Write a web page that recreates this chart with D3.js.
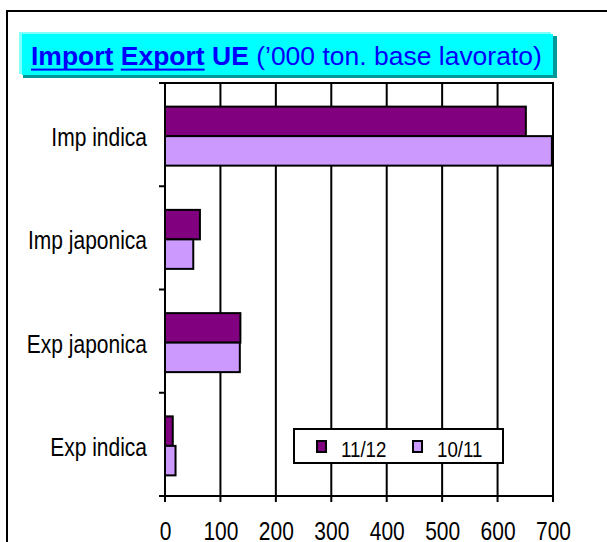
<!DOCTYPE html>
<html>
<head>
    <title>Import Export UE</title>
    <script src='https://cdn.jsdelivr.net/npm/d3@7/dist/d3.min.js' charset='utf-8'></script>
    <style type="text/css">
        body { margin: 0; background: #fff; }
        svg text { font-family: "Liberation Sans", Arial, sans-serif; }
    </style>
</head>
<body>
    <svg class='chart'></svg>

    <script type='text/javascript'>
    var categories = ["Imp indica", "Imp japonica", "Exp japonica", "Exp indica"];
    var seriesNames = ["11/12", "10/11"];
    var values1112 = [651, 63, 136, 14];
    var values1011 = [698, 51, 135, 19];
    var xTicks = [0, 100, 200, 300, 400, 500, 600, 700];

    var width = 607;
    var height = 542;
    var plotLeft = 165, plotTop = 83;
    var plotW = 388, plotH = 413;
    var squish = 0.84; // the picture's labels are narrow

    var rows = categories.map(function (c, i) {
        return { cat: c, vals: [values1112[i], values1011[i]] };
    });

    var x = d3.scaleLinear().domain([0, 700]).range([0, plotW]);
    var y = d3.scaleBand().domain(categories).range([0, plotH]);
    var ySub = d3.scaleBand().domain(seriesNames).range([0, y.bandwidth()]).paddingOuter(0.75);
    var color = d3.scaleOrdinal().domain(seriesNames).range(["#800080", "#cc99ff"]);

    var chart = d3.select('.chart')
        .attr('width', width)
        .attr('height', height);

    // outer frame (runs off the right and bottom of the picture)
    chart.append('rect')
        .attr('x', 7).attr('y', 11)
        .attr('width', 640).attr('height', 600)
        .attr('fill', 'none').attr('stroke', '#000').attr('stroke-width', 2);

    // title box
    chart.append('rect').attr('x', 23).attr('y', 36).attr('width', 534).attr('height', 42).attr('fill', '#009999');
    chart.append('rect').attr('x', 19).attr('y', 32).attr('width', 532).attr('height', 42).attr('fill', '#80ffff');
    chart.append('rect').attr('x', 22).attr('y', 34).attr('width', 531).attr('height', 41).attr('fill', '#00ffff');

    var titleG = chart.append('g');
    var title = titleG.append('text')
        .attr('font-size', 25)
        .attr('fill', '#0000ff');
    var parts = [
        { t: "Import", b: true, u: true },
        { t: " ", b: true, u: false },
        { t: "Export", b: true, u: true },
        { t: " UE", b: true, u: false },
        { t: " (\u2019000 ton. base lavorato)", b: false, u: false }
    ];
    title.selectAll('tspan')
        .data(parts)
        .enter()
        .append('tspan')
        .attr('font-weight', function (d) { return d.b ? 'bold' : 'normal'; })
        .style('white-space', 'pre')
        .text(function (d) { return d.t; });

    var titleNode = title.node();
    var natural = titleNode.getComputedTextLength();
    titleG.attr('transform', 'translate(31,65) scale(' + (511 / natural) + ',1)');
    var pos = 0;
    parts.forEach(function (p) {
        var len = titleNode.getSubStringLength(pos, p.t.length);
        if (p.u) {
            titleG.append('rect')
                .attr('x', titleNode.getSubStringLength(0, pos))
                .attr('y', 3.6).attr('width', len).attr('height', 2)
                .attr('fill', '#0000ff');
        }
        pos += p.t.length;
    });

    var group = chart.append('g')
        .attr('transform', 'translate(' + plotLeft + ',' + plotTop + ')');

    // vertical gridlines with small ticks below the axis
    group.selectAll('.grid')
        .data(xTicks)
        .enter()
        .append('line')
        .attr('class', 'grid')
        .attr('x1', function (d) { return x(d); })
        .attr('x2', function (d) { return x(d); })
        .attr('y1', 0).attr('y2', plotH + 6)
        .attr('stroke', '#000').attr('stroke-width', 2);

    // tick marks on the category axis at band edges
    var edges = categories.map(function (c) { return y(c); }).concat([plotH]);
    group.selectAll('.ytick')
        .data(edges)
        .enter()
        .append('line')
        .attr('class', 'ytick')
        .attr('x1', -6).attr('x2', 0)
        .attr('y1', function (d) { return d; })
        .attr('y2', function (d) { return d; })
        .attr('stroke', '#000').attr('stroke-width', 2);

    group.append('line').attr('x1', -1).attr('x2', plotW + 1).attr('y1', 0).attr('y2', 0)
        .attr('stroke', '#000').attr('stroke-width', 2);
    group.append('line').attr('x1', -1).attr('x2', plotW + 1).attr('y1', plotH).attr('y2', plotH)
        .attr('stroke', '#000').attr('stroke-width', 2);
    group.append('line').attr('x1', 0).attr('x2', 0).attr('y1', 0).attr('y2', plotH)
        .attr('stroke', '#000').attr('stroke-width', 2);

    // bars
    var rowG = group.selectAll('.row')
        .data(rows)
        .enter()
        .append('g')
        .attr('class', 'row')
        .attr('transform', function (d) { return 'translate(0,' + (y(d.cat) + 1.5) + ')'; });

    rowG.selectAll('rect')
        .data(function (d) {
            return d.vals.map(function (v, i) { return { name: seriesNames[i], value: v }; });
        })
        .enter()
        .append('rect')
        .attr('x', 0)
        .attr('y', function (d) { return ySub(d.name); })
        .attr('width', function (d) { return x(d.value); })
        .attr('height', ySub.bandwidth())
        .attr('fill', function (d) { return color(d.name); })
        .attr('stroke', '#000')
        .attr('stroke-width', 2);

    // axes (labels only)
    var xAxis = group.append('g')
        .attr('transform', 'translate(0,' + plotH + ')')
        .call(d3.axisBottom(x).tickValues(xTicks).tickSize(0));
    xAxis.select('.domain').remove();
    xAxis.selectAll('text')
        .attr('font-size', 25)
        .attr('font-family', '"Liberation Sans", Arial, sans-serif')
        .attr('fill', '#000')
        .attr('y', 44).attr('dy', 0)
        .attr('transform', 'scale(' + squish + ',1)');

    var yAxis = group.append('g')
        .call(d3.axisLeft(y).tickSize(0));
    yAxis.select('.domain').remove();
    yAxis.selectAll('text')
        .attr('font-size', 25)
        .attr('font-family', '"Liberation Sans", Arial, sans-serif')
        .attr('fill', '#000')
        .attr('x', -18 / squish).attr('dy', '0.46em')
        .attr('transform', 'scale(' + squish + ',1)');

    // legend
    var legend = chart.append('g').attr('transform', 'translate(294,429)');
    legend.append('rect')
        .attr('width', 209).attr('height', 34)
        .attr('fill', '#fff').attr('stroke', '#000').attr('stroke-width', 2);
    var item = legend.selectAll('.item')
        .data(seriesNames)
        .enter()
        .append('g')
        .attr('class', 'item')
        .attr('transform', function (d, i) { return 'translate(' + (23 + i * 96) + ',12)'; });
    item.append('rect')
        .attr('width', 9).attr('height', 11)
        .attr('fill', function (d) { return color(d); })
        .attr('stroke', '#000').attr('stroke-width', 2);
    item.append('text')
        .attr('transform', 'translate(24,16) scale(0.85,1)')
        .attr('font-size', 22)
        .text(function (d) { return d; });
    </script>
</body>
</html>
